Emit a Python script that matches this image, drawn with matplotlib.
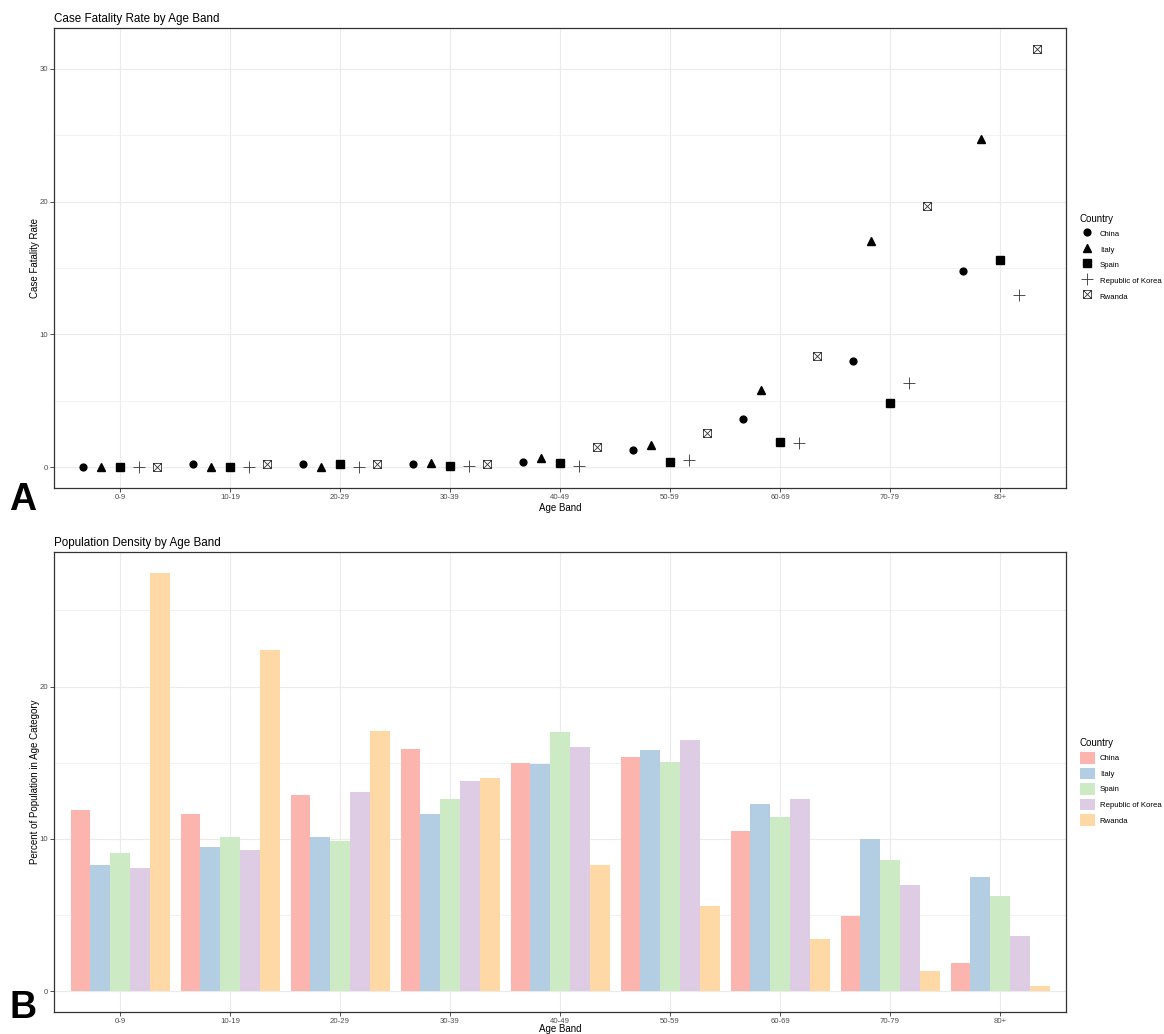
import numpy as np
import matplotlib
matplotlib.use("Agg")
import matplotlib.pyplot as plt
from matplotlib.path import Path
from matplotlib.patches import Patch
from matplotlib.lines import Line2D
from matplotlib.ticker import MultipleLocator

plt.rcParams['font.family'] = ['Liberation Sans', 'DejaVu Sans']

age_bands = ["0-9", "10-19", "20-29", "30-39", "40-49", "50-59", "60-69", "70-79", "80+"]
countries = ["China", "Italy", "Spain", "Republic of Korea", "Rwanda"]

# case fatality rate (%)
cfr_china = [0.0, 0.2, 0.2, 0.2, 0.4, 1.3, 3.6, 8.0, 14.8]
cfr_italy = [0.0, 0.0, 0.0, 0.3, 0.7, 1.7, 5.8, 17.0, 24.7]
cfr_spain = [0.0, 0.0, 0.2, 0.1, 0.3, 0.4, 1.9, 4.8, 15.6]
cfr_korea = [0.0, 0.0, 0.0, 0.1, 0.1, 0.5, 1.8, 6.3, 13.0]
cfr_rwanda = [0.0, 0.2, 0.2, 0.2, 1.5, 2.6, 8.4, 19.7, 31.5]

# percent of population in age band
pop_china = [11.9, 11.6, 12.9, 15.9, 15.0, 15.4, 10.5, 4.95, 1.84]
pop_italy = [8.27, 9.47, 10.1, 11.6, 14.9, 15.8, 12.3, 9.96, 7.46]
pop_spain = [9.06, 10.1, 9.85, 12.6, 17.0, 15.05, 11.4, 8.58, 6.24]
pop_korea = [8.10, 9.26, 13.1, 13.8, 16.0, 16.5, 12.6, 6.96, 3.61]
pop_rwanda = [27.46, 22.4, 17.1, 14.0, 8.27, 5.6, 3.41, 1.31, 0.33]

cfr = [cfr_china, cfr_italy, cfr_spain, cfr_korea, cfr_rwanda]
pop = [pop_china, pop_italy, pop_spain, pop_korea, pop_rwanda]

pastel = ["#FBB4AE", "#B3CDE3", "#CCEBC5", "#DECBE4", "#FED9A6"]

# square with a cross, like R shape 7
sq_cross = Path(
    [(-1, -1), (1, -1), (1, 1), (-1, 1), (-1, -1), (-1, -1), (1, 1), (-1, 1), (1, -1)],
    [Path.MOVETO, Path.LINETO, Path.LINETO, Path.LINETO, Path.CLOSEPOLY,
     Path.MOVETO, Path.LINETO, Path.MOVETO, Path.LINETO])

marker_styles = [
    dict(marker='o', markersize=4.9, color='black'),
    dict(marker='^', markersize=6.4, color='black'),
    dict(marker='s', markersize=5.2, color='black'),
    dict(marker='+', markersize=8.6, color='#333333', markeredgewidth=0.6),
    dict(marker=sq_cross, markersize=5.8, color='#333333', markerfacecolor='none', markeredgewidth=0.6),
]

W, H = 1164, 1034
fig = plt.figure(figsize=(W / 100, H / 100), dpi=100)
ax1 = fig.add_axes([54 / W, 1 - 488 / H, (1066 - 54) / W, 460 / H])
ax2 = fig.add_axes([54 / W, 1 - 1012 / H, (1066 - 54) / W, 460 / H])

x = np.arange(len(age_bands))

# Panel A: dodged points
dodge = 0.17
for j, vals in enumerate(cfr):
    ax1.plot(x + (j - 2) * dodge, vals, linestyle='none', **marker_styles[j])

# Panel B: dodged bars
bw = 0.18
for j, vals in enumerate(pop):
    ax2.bar(x + (j - 2) * bw, vals, width=bw, color=pastel[j], linewidth=0)


def style(ax, data, title, ylabel, major, xlab_y):
    top = max(max(v) for v in data)
    ax.set_xlim(-0.6, 8.6)
    ax.set_ylim(-0.05 * top, top * 1.05)
    ax.set_xticks(x)
    ax.set_xticklabels(age_bands)
    ax.yaxis.set_major_locator(MultipleLocator(major))
    ax.yaxis.set_minor_locator(MultipleLocator(major / 2))
    ax.grid(True, which='major', color='#EBEBEB', linewidth=0.8)
    ax.grid(True, which='minor', axis='y', color='#EBEBEB', linewidth=0.45)
    ax.set_axisbelow(True)
    ax.tick_params(which='major', length=2.6, width=0.6, color='#333333',
                   labelsize=5.6, labelcolor='#4D4D4D', pad=1.5)
    ax.tick_params(which='minor', length=0)
    for s in ax.spines.values():
        s.set_color('#333333')
        s.set_linewidth(0.9)
    ax.set_title(title, loc='left', fontsize=8.4, pad=4)
    ax.set_xlabel("Age Band", fontsize=7)
    ax.set_ylabel(ylabel, fontsize=7)
    ax.xaxis.set_label_coords(0.5, xlab_y)
    ax.yaxis.set_label_coords(-0.0138, 0.5)


style(ax1, cfr, "Case Fatality Rate by Age Band", "Case Fatality Rate", 10, -0.032)
style(ax2, pop, "Population Density by Age Band", "Percent of Population in Age Category", 10, -0.027)

leg_kw = dict(loc='upper left', bbox_transform=fig.transFigure, frameon=False,
              title='Country', title_fontsize=7, fontsize=5.6,
              handlelength=1.9, handleheight=1.9, handletextpad=0.65,
              labelspacing=0.52, borderpad=0, borderaxespad=0, alignment='left')

pt_handles = [Line2D([], [], linestyle='none', **marker_styles[j]) for j in range(5)]
ax1.legend(pt_handles, countries, bbox_to_anchor=(1080 / W, 1 - 214 / H), **leg_kw)

bar_handles = [Patch(facecolor=pastel[j], linewidth=0) for j in range(5)]
ax2.legend(bar_handles, countries, bbox_to_anchor=(1080 / W, 1 - 738 / H), **leg_kw)

fig.text(9 / W, 1 - 510 / H, "A", fontsize=27, fontweight='bold', va='baseline', ha='left')
fig.text(10 / W, 1 - 1018 / H, "B", fontsize=27, fontweight='bold', va='baseline', ha='left')

fig.savefig("out.png", dpi=100, facecolor='white')
